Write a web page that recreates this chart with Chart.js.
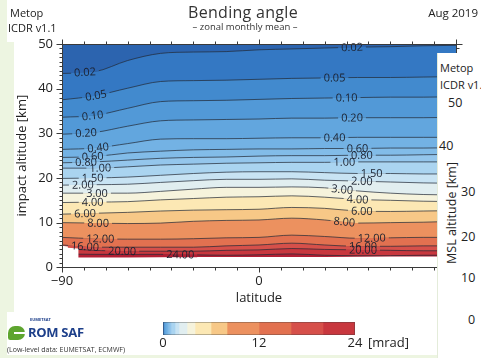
<!DOCTYPE html>
<html><head><meta charset="utf-8">
<script src="https://cdn.jsdelivr.net/npm/chart.js@4.4.0/dist/chart.umd.min.js"></script>
<style>
html,body{margin:0;padding:0;}
body{width:481px;height:358px;background:#edf5e1;position:relative;overflow:hidden;font-family:"Open Sans",sans-serif;color:#222;}
.abs{position:absolute;white-space:nowrap;}
#panel{position:absolute;left:14px;top:0;width:467px;height:355px;background:#fff;}
#panelTop{position:absolute;left:7px;top:0;width:10px;height:42px;background:#fff;}
#panelBot{position:absolute;left:7px;top:312px;width:10px;height:43px;background:#fff;}
#rpanel{position:absolute;left:437px;top:53px;width:44px;height:305px;background:#fff;border-left:1px solid #e4ecda;}
#main{position:absolute;left:0;top:0;}
#cb{position:absolute;left:140px;top:316px;}
</style></head><body>
<div id="panel"></div><div id="panelTop"></div><div id="panelBot"></div>
<canvas id="main" width="481" height="358"></canvas>
<div id="rpanel"></div>
<canvas id="cb" width="240" height="35"></canvas>

<div class="abs" style="left:10px;top:6px;font-size:11px;line-height:13px;">Metop</div>
<div class="abs" style="left:8px;top:21px;font-size:11px;line-height:13px;">ICDR v1.1</div>
<div class="abs" style="left:143px;top:3px;width:200px;text-align:center;font-size:16px;line-height:19px;color:#333;letter-spacing:0.3px;">Bending angle</div>
<div class="abs" style="left:145px;top:21px;width:200px;text-align:center;font-size:9.5px;line-height:12px;color:#333;">– zonal monthly mean –</div>
<div class="abs" style="left:410px;top:6px;width:68px;text-align:right;font-size:11.5px;line-height:14px;">Aug 2019</div>

<div class="abs" style="left:440px;top:61px;font-size:11px;line-height:13px;">Metop</div>
<div class="abs" style="left:440px;top:78px;font-size:11px;line-height:13px;">ICDR v1.</div>
<div class="abs" style="left:448px;top:96px;font-size:12.5px;line-height:14px;">50</div>
<div class="abs" style="left:439px;top:139px;font-size:12.5px;line-height:14px;">40</div>
<div class="abs" style="left:461px;top:185px;font-size:12.5px;line-height:14px;">30</div>
<div class="abs" style="left:461px;top:230px;font-size:12.5px;line-height:14px;">20</div>
<div class="abs" style="left:461px;top:271px;font-size:12.5px;line-height:14px;">10</div>
<div class="abs" style="left:468px;top:313px;font-size:12.5px;line-height:14px;">0</div>
<div class="abs" style="left:452px;top:213px;font-size:12.5px;line-height:14px;transform:translate(-50%,-50%) rotate(-90deg);">MSL altitude [km]</div>

<div class="abs" style="left:8px;top:326px;width:17px;height:14px;background:#5ea52f;border-radius:9px 9px 9px 3px;"></div>
<div class="abs" style="left:14px;top:332px;width:11px;height:2px;background:#fff;"></div>
<div class="abs" style="left:30px;top:317px;font-size:4px;line-height:5px;font-weight:bold;color:#1d3f8a;">EUMETSAT</div>
<div class="abs" style="left:28px;top:325px;font-size:13px;line-height:15px;font-weight:bold;color:#1d3f8a;letter-spacing:-0.3px;">ROM SAF</div>
<div class="abs" style="left:7px;top:345px;font-size:7px;line-height:9px;color:#333;">(Low-level data: EUMETSAT, ECMWF)</div>
<div class="abs" style="left:368px;top:334px;font-size:13px;line-height:16px;">[mrad]</div>

<script>
// ---- data ----
const lats = [-90, -75, -60, -45, -30, -15, 0, 15, 30, 45, 60, 75, 90];
const levels = [0.02, 0.05, 0.1, 0.2, 0.4, 0.6, 0.8, 1, 1.5, 2, 3, 4, 6, 8, 12, 16, 20, 24];
const levelText = ['0.02','0.05','0.10','0.20','0.40','0.60','0.80','1.00','1.50','2.00','3.00','4.00','6.00','8.00','12.00','16.00','20.00','24.00'];

const alt_0_02 = [43.4, 43.8, 46.3, 47.9, 48.2, 48.3, 48.7, 48.9, 49.1, 49.3, 49.4, 49.6, 49.7];
const alt_0_05 = [37.5, 38.4, 40.1, 41.6, 41.8, 41.9, 42.1, 42.3, 42.4, 42.5, 42.5, 42.6, 42.7];
const alt_0_10 = [33.6, 34.0, 35.6, 37.1, 37.3, 37.4, 37.6, 37.8, 37.9, 38.0, 38.1, 38.1, 38.2];
const alt_0_20 = [29.8, 30.2, 31.6, 32.8, 33.0, 33.1, 33.2, 33.4, 33.4, 33.5, 33.5, 33.5, 33.6];
const alt_0_40 = [26.4, 26.7, 27.7, 28.7, 28.8, 28.8, 28.9, 29.0, 29.0, 29.1, 29.1, 29.1, 29.1];
const alt_0_60 = [24.6, 24.8, 25.6, 26.0, 26.3, 26.4, 26.5, 26.5, 26.6, 26.6, 26.7, 26.7, 26.8];
const alt_0_80 = [23.4, 23.6, 24.0, 24.4, 24.6, 24.7, 24.9, 25.0, 25.0, 25.1, 25.1, 25.2, 25.3];
const alt_1_00 = [22.2, 22.2, 22.5, 22.9, 23.1, 23.3, 23.4, 23.5, 23.5, 23.6, 23.6, 23.6, 23.6];
const alt_1_50 = [19.9, 20.0, 20.2, 20.6, 21.0, 21.3, 21.4, 21.4, 21.2, 21.0, 21.0, 20.9, 20.9];
const alt_2_00 = [18.4, 18.5, 18.6, 19.0, 19.4, 19.7, 19.7, 19.8, 19.5, 19.3, 19.1, 18.9, 18.8];
const alt_3_00 = [16.6, 16.6, 16.6, 17.0, 17.5, 17.9, 17.9, 18.0, 17.8, 17.1, 16.6, 16.3, 16.2];
const alt_4_00 = [14.5, 14.6, 14.7, 15.1, 15.4, 15.7, 15.8, 16.0, 15.7, 15.2, 15.0, 14.8, 14.7];
const alt_6_00 = [11.9, 12.1, 12.3, 12.6, 12.8, 12.9, 13.0, 13.4, 13.2, 12.6, 12.5, 12.6, 12.7];
const alt_8_00 = [10.0, 9.9, 9.8, 9.9, 10.3, 10.5, 10.6, 11.0, 10.6, 9.9, 10.0, 10.1, 10.3];
const alt_12_00 = [6.7, 6.4, 6.3, 6.3, 6.4, 6.6, 6.7, 7.2, 6.9, 6.5, 6.6, 6.7, 6.7];
const alt_16_00 = [5.0, 4.5, 4.5, 4.5, 4.5, 4.8, 5.0, 5.4, 5.0, 4.7, 4.7, 4.8, 4.8];
const alt_20_00 = [4.2, 3.8, 3.6, 3.6, 3.6, 3.8, 3.9, 4.2, 4.0, 3.9, 3.8, 3.7, 3.7];
const alt_24_00 = [3.0, 2.9, 2.9, 2.9, 2.8, 2.7, 2.8, 3.0, 2.7, 2.6, 2.6, 2.7, 2.7];

const groundLat = [-90, -82.5, -82.5, -60, -30, 0, 30, 60, 90];
const groundAlt = [4.8, 4.3, 2.2, 2.2, 2.3, 2.3, 2.3, 2.4, 2.4];
const topAlt = 50;

const bandColors = ['#2c64af','#3478c3','#428ace','#5299d7','#62a6de','#73b2e4','#82bce8','#94c6ec',
  '#aad4f0','#c8e3f3','#e1eef0','#f6f3dc','#fce8b4','#f7c887','#ec915f','#e27150','#d6504a','#c8373e','#b21e34'];

const labelLatLeft  = [-79.5, -74.5, -76, -79, -73.5, -76, -79, -72.5, -76, -80.5, -74, -76, -79.5, -73.5, -72.5, -79.5, -62.5, -36];
const labelLatRight = [42.5, 34.5, 40, 42.5, 34.5, 45, 47, 39, 51.5, 47, 38, 45, 47, 39, 51.5, 47.5, 47.5, null];

const yTickLabels = [0, 10, 20, 30, 40, 50];
const xTickLabels = [-90, 0, 90];
const cbTicks = [0, 12, 24];

const contourAlts = [alt_0_02, alt_0_05, alt_0_10, alt_0_20, alt_0_40, alt_0_60, alt_0_80, alt_1_00, alt_1_50,
  alt_2_00, alt_3_00, alt_4_00, alt_6_00, alt_8_00, alt_12_00, alt_16_00, alt_20_00, alt_24_00];

// ---- chart ----
Chart.defaults.font.family = "'Open Sans', sans-serif";
Chart.defaults.color = '#222';
const lineColor = 'rgba(35,42,55,0.8)';

const datasets = [];
datasets.push({data: groundLat.map((x, i) => ({x, y: groundAlt[i]})), borderWidth: 0, fill: 'start',
  backgroundColor: '#ffffff', pointRadius: 0, tension: 0});
for (let k = levels.length - 1; k >= 0; k--) {
  datasets.push({data: lats.map((x, i) => ({x, y: contourAlts[k][i]})), borderColor: lineColor, borderWidth: 0.9,
    fill: 'start', backgroundColor: bandColors[k + 1], pointRadius: 0, cubicInterpolationMode: 'monotone'});
}
datasets.push({data: [{x: -90, y: topAlt}, {x: 90, y: topAlt}], borderWidth: 0, fill: 'start',
  backgroundColor: bandColors[0], pointRadius: 0});

function altAt(arr, lat) {
  for (let i = 0; i < lats.length - 1; i++) {
    if (lat >= lats[i] && lat <= lats[i + 1]) {
      const t = (lat - lats[i]) / (lats[i + 1] - lats[i]);
      return arr[i] + t * (arr[i + 1] - arr[i]);
    }
  }
  return arr[arr.length - 1];
}
const fmt = v => (v < 0 ? '\u2212' + Math.abs(v) : String(v));

const decor = {
  id: 'decor',
  afterDatasetsDraw(chart) {
    const {ctx, scales: {x, y}} = chart;
    ctx.save();
    ctx.font = '11px "Open Sans"';
    for (let k = 0; k < levels.length; k++) {
      [labelLatLeft[k], labelLatRight[k]].forEach(lat => {
        if (lat === null || lat === undefined) return;
        const arr = contourAlts[k];
        const px = x.getPixelForValue(lat), py = y.getPixelForValue(altAt(arr, lat));
        const pxa = x.getPixelForValue(lat - 4), pya = y.getPixelForValue(altAt(arr, Math.max(-90, lat - 4)));
        const pxb = x.getPixelForValue(lat + 4), pyb = y.getPixelForValue(altAt(arr, lat + 4));
        const ang = Math.atan2(pyb - pya, pxb - pxa);
        const t = levelText[k];
        const w = ctx.measureText(t).width;
        ctx.save();
        ctx.translate(px, py); ctx.rotate(ang);
        ctx.fillStyle = bandColors[k]; ctx.fillRect(-w / 2 - 3, -2.5, w + 6, 2.5);
        ctx.fillStyle = bandColors[k + 1]; ctx.fillRect(-w / 2 - 3, 0, w + 6, 2.5);
        ctx.fillStyle = '#1c2230'; ctx.textAlign = 'center'; ctx.textBaseline = 'middle';
        ctx.fillText(t, 0, 0.5);
        ctx.restore();
      });
    }
    ctx.restore();
  },
  afterDraw(chart) {
    const {ctx, chartArea: a, scales: {x, y}} = chart;
    ctx.save();
    ctx.strokeStyle = '#3a3a3a'; ctx.lineWidth = 1;
    const L = Math.round(a.left) + 0.5, R = Math.round(a.right) + 0.5, T = Math.round(a.top) + 0.5, B = Math.round(a.bottom) + 0.5;
    ctx.strokeRect(L, T, R - L, B - T);
    ctx.beginPath();
    for (let v = 0; v <= 50; v++) {
      const len = v % 10 === 0 ? 6 : 3;
      const py = Math.round(y.getPixelForValue(v)) + 0.5;
      ctx.moveTo(L, py); ctx.lineTo(L - len, py);
      ctx.moveTo(R, py); ctx.lineTo(R + len, py);
    }
    for (let v = -90; v <= 90; v += 10) {
      const len = v % 90 === 0 ? 5 : 3;
      const px = Math.round(x.getPixelForValue(v)) + 0.5;
      ctx.moveTo(px, B); ctx.lineTo(px, B + len);
      ctx.moveTo(px, T); ctx.lineTo(px, T - len);
    }
    ctx.stroke();
    ctx.restore();
  }
};

new Chart(document.getElementById('main'), {
  type: 'line',
  data: {datasets},
  options: {
    responsive: false, animation: false, events: [],
    layout: {padding: {left: 0, top: 44, right: 25, bottom: 52.2}},
    plugins: {legend: {display: false}, tooltip: {enabled: false}},
    scales: {
      x: {type: 'linear', min: -90, max: 90,
        afterBuildTicks: s => { s.ticks = xTickLabels.map(v => ({value: v})); },
        ticks: {callback: v => fmt(v), font: {size: 13}, padding: 6, maxRotation: 0, autoSkip: false, color: '#222'},
        grid: {display: false, drawTicks: false}, border: {display: false},
        title: {display: true, text: 'latitude', font: {size: 13}, padding: {top: 0, bottom: 0}, color: '#222'},
        afterFit: s => { s.height = 38.5; }},
      y: {type: 'linear', min: 0, max: 50,
        afterBuildTicks: s => { s.ticks = yTickLabels.map(v => ({value: v})); },
        ticks: {font: {size: 13}, padding: 9, color: '#222'},
        grid: {display: false, drawTicks: false}, border: {display: false},
        title: {display: true, text: 'impact altitude [km]', font: {size: 13}, padding: {top: 14, bottom: 0}, color: '#222'},
        afterFit: s => { s.width = 62; }}
    }
  },
  plugins: [decor]
});

// ---- colour bar ----
const cbEdges = [0].concat(levels);
const cbFrame = {
  id: 'cbFrame',
  afterDatasetsDraw(chart) {
    const {ctx, chartArea: a} = chart;
    ctx.save(); ctx.strokeStyle = 'rgba(60,60,60,0.35)'; ctx.lineWidth = 1;
    ctx.strokeRect(Math.round(a.left) + 0.5, Math.round(a.top) + 0.5, Math.round(a.right - a.left) - 1, Math.round(a.bottom - a.top) - 1);
    ctx.restore();
  }
};
new Chart(document.getElementById('cb'), {
  type: 'bar',
  data: {labels: [''], datasets: cbEdges.slice(1).map((e, i) => ({data: [e - cbEdges[i]], backgroundColor: bandColors[i],
    borderWidth: 0, barPercentage: 1, categoryPercentage: 1}))},
  options: {
    indexAxis: 'y', responsive: false, animation: false, events: [],
    layout: {padding: {left: 23, right: 25, top: 6, bottom: 0}},
    plugins: {legend: {display: false}, tooltip: {enabled: false}},
    scales: {
      x: {stacked: true, min: 0, max: 24,
        afterBuildTicks: s => { s.ticks = cbTicks.map(v => ({value: v})); },
        ticks: {font: {size: 13}, padding: 0, color: '#222'},
        grid: {display: false, drawTicks: false}, border: {display: false},
        afterFit: s => { s.height = 16; }},
      y: {stacked: true, display: false}
    }
  },
  plugins: [cbFrame]
});
</script>
</body></html>
